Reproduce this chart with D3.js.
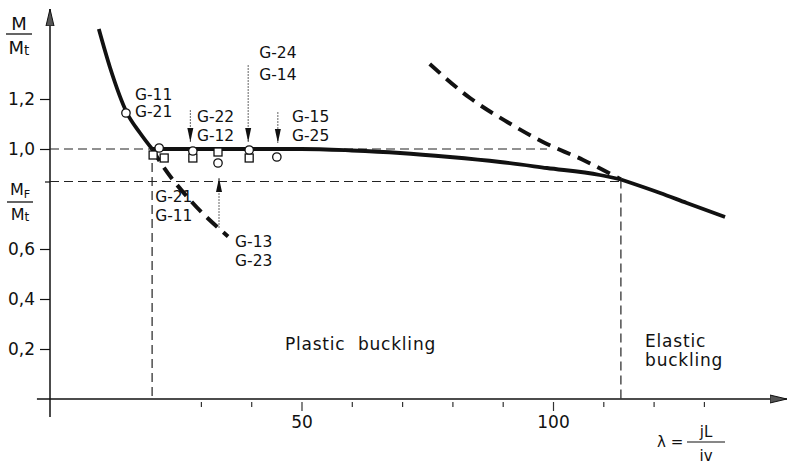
<!DOCTYPE html>
<html>
<head>
<meta charset="utf-8">
<script src="https://cdn.jsdelivr.net/npm/d3@7"></script>
<style>
  body { margin: 0; background: #fff; }
  text { font-family: "DejaVu Sans", sans-serif; fill: #111; }
</style>
</head>
<body>
<svg id="chart" width="793" height="466"></svg>
<script>
// curves: [lambda, M/Mt]
const steepSolid = [[9.7, 1.48], [11.9, 1.328], [15.3, 1.144], [17.9, 1.064], [20.3, 1.0]];
const steepDashed = [[20.3, 1.0], [22.3, 0.936], [28.2, 0.788], [35.4, 0.65]];
const plateau = [[20.3, 1.0], [35, 1.0], [50, 1.0], [60, 0.994], [69.6, 0.984], [79.5, 0.968],
                 [89.5, 0.948], [98.8, 0.924], [109.3, 0.896], [113.5, 0.878]];
const elasticDashed = [[75.5, 1.34], [83.5, 1.204], [90.9, 1.108], [98, 1.028], [106, 0.956], [113.5, 0.878]];
const elasticSolid = [[113.5, 0.878], [121.3, 0.824], [126.6, 0.784], [134.2, 0.728]];

// test points
const circles = [[15.1, 1.144], [21.7, 1.004], [28.4, 0.992], [33.4, 0.944], [39.6, 0.996], [45.1, 0.968]];
const squares = [[20.5, 0.976], [22.7, 0.964], [28.4, 0.964], [33.4, 0.988], [39.6, 0.964]];

const MF = 0.87;          // M_F / M_t
const lambdaP = 20.3;     // end of the plateau at the left
const lambdaE = 113.5;    // plastic / elastic limit
const lambdaOne = 98.8;   // where the elastic curve crosses 1,0

const xTicks = [30, 40, 50, 60, 70, 80, 90, 100, 110, 120, 130];
const xLabels = { 50: "50", 100: "100" };
const yTicks = [0.2, 0.4, 0.6, 1.0, 1.2];
const yLabels = ["0,2", "0,4", "0,6", "1,0", "1,2"];

// annotations: label lines, text anchor point, line gap, arrow [x, from y, to y]
const notes = [
  { lines: ["G-11", "G-21"], at: [16.9, 1.196], gap: 17 },
  { lines: ["G-22", "G-12"], at: [29.2, 1.108], gap: 18.5, arrow: [27.9, 1.156, 1.028] },
  { lines: ["G-24", "G-14"], at: [41.6, 1.364], gap: 22, arrow: [39.4, 1.336, 1.028] },
  { lines: ["G-15", "G-25"], at: [48.1, 1.108], gap: 18.5, arrow: [45.3, 1.148, 1.024] },
  { lines: ["G-21", "G-11"], at: [20.9, 0.788], gap: 18.5 },
  { lines: ["G-13", "G-23"], at: [36.8, 0.608], gap: 18.5, arrow: [33.6, 0.684, 0.884] }
];

const svg = d3.select("#chart");
const x = d3.scaleLinear().domain([0, 100]).range([50, 553]);
const y = d3.scaleLinear().domain([0, 1]).range([399, 149]);
const line = d3.line().x(d => x(d[0])).y(d => y(d[1])).curve(d3.curveMonotoneX);

const defs = svg.append("defs");
defs.append("marker")
    .attr("id", "tip")
    .attr("viewBox", "0 -4 14 8")
    .attr("refX", 14).attr("refY", 0)
    .attr("markerWidth", 14).attr("markerHeight", 8)
    .attr("markerUnits", "userSpaceOnUse")
    .attr("orient", "auto")
    .append("path").attr("d", "M0,-3L14,0L0,3Z").attr("fill", "#111");
defs.append("marker")
    .attr("id", "axisTip")
    .attr("viewBox", "0 -6 18 12")
    .attr("refX", 17).attr("refY", 0)
    .attr("markerWidth", 18).attr("markerHeight", 12)
    .attr("markerUnits", "userSpaceOnUse")
    .attr("orient", "auto")
    .append("path").attr("d", "M0,-4L17,0L0,4Z")
    .attr("fill", "#555").attr("stroke", "#111").attr("stroke-width", 1);

// axes
svg.append("line")
    .attr("x1", x(-2.6)).attr("x2", x(146.5))
    .attr("y1", y(0)).attr("y2", y(0))
    .attr("stroke", "#111").attr("stroke-width", 1.5)
    .attr("marker-end", "url(#axisTip)");
svg.append("line")
    .attr("x1", x(0)).attr("x2", x(0))
    .attr("y1", y(-0.072)).attr("y2", y(1.56))
    .attr("stroke", "#111").attr("stroke-width", 1.5)
    .attr("marker-end", "url(#axisTip)");

const gx = svg.append("g")
    .attr("transform", `translate(0,${y(0)})`)
    .call(d3.axisBottom(x).tickValues(xTicks).tickSizeOuter(0).tickFormat(d => xLabels[d] || ""));
gx.select(".domain").remove();
gx.selectAll(".tick line")
    .attr("y1", 3).attr("y2", d => xLabels[d] ? 12 : 8)
    .attr("stroke", "#333").attr("stroke-width", 1.2);
gx.selectAll(".tick text")
    .attr("y", 17).attr("font-size", 17).attr("font-family", "DejaVu Sans").attr("fill", "#111");

const gy = svg.append("g")
    .attr("transform", `translate(${x(0)},0)`)
    .call(d3.axisLeft(y).tickValues(yTicks.concat([MF])).tickSize(10).tickPadding(5)
        .tickFormat(d => { const i = yTicks.indexOf(d); return i < 0 ? "" : yLabels[i]; }));
gy.select(".domain").remove();
gy.selectAll(".tick line")
    .attr("x2", d => d === MF ? -5 : -10)
    .attr("stroke", "#111").attr("stroke-width", 1.2);
gy.selectAll(".tick text")
    .attr("font-size", 17).attr("font-family", "DejaVu Sans").attr("fill", "#111");

// guide lines
const guides = [
  [[0, 1.0], [lambdaOne, 1.0]],
  [[0, MF], [lambdaE, MF]],
  [[lambdaP, 1.0], [lambdaP, 0]],
  [[lambdaE, 0.878], [lambdaE, 0]]
];
svg.selectAll(".guide")
    .data(guides)
    .enter()
    .append("path")
    .attr("class", "guide")
    .attr("d", d3.line().x(d => x(d[0])).y(d => y(d[1])))
    .attr("fill", "none")
    .attr("stroke", "#222").attr("stroke-width", 1.2)
    .attr("stroke-dasharray", "9,5");

// curves
[steepSolid, plateau, elasticSolid].forEach(c => {
    svg.append("path").attr("d", line(c))
        .attr("fill", "none").attr("stroke", "#111").attr("stroke-width", 3.8);
});
[steepDashed, elasticDashed].forEach(c => {
    svg.append("path").attr("d", line(c))
        .attr("fill", "none").attr("stroke", "#111").attr("stroke-width", 4)
        .attr("stroke-dasharray", "14,8");
});

// test points
svg.selectAll(".sq")
    .data(squares)
    .enter()
    .append("rect")
    .attr("class", "sq")
    .attr("x", d => x(d[0]) - 4).attr("y", d => y(d[1]) - 4)
    .attr("width", 8).attr("height", 8)
    .attr("fill", "#fff").attr("stroke", "#111").attr("stroke-width", 1.3);
svg.selectAll(".ci")
    .data(circles)
    .enter()
    .append("circle")
    .attr("class", "ci")
    .attr("cx", d => x(d[0])).attr("cy", d => y(d[1]))
    .attr("r", 4.2)
    .attr("fill", "#fff").attr("stroke", "#111").attr("stroke-width", 1.3);

// annotations
notes.forEach(n => {
    n.lines.forEach((t, i) => {
        svg.append("text")
            .attr("x", x(n.at[0])).attr("y", y(n.at[1]) + i * n.gap)
            .attr("font-size", 15.5)
            .text(t);
    });
    if (n.arrow) {
        svg.append("line")
            .attr("x1", x(n.arrow[0])).attr("x2", x(n.arrow[0]))
            .attr("y1", y(n.arrow[1])).attr("y2", y(n.arrow[2]))
            .attr("stroke", "#555").attr("stroke-width", 0.9)
            .attr("stroke-dasharray", "2,1")
            .attr("marker-end", "url(#tip)");
    }
});

svg.append("text")
    .attr("x", x(46.7)).attr("y", y(0.196))
    .attr("font-size", 17).attr("letter-spacing", 0.8).style("white-space", "pre")
    .text("Plastic  buckling");
svg.append("text").attr("x", x(118.3)).attr("y", y(0.208)).attr("font-size", 17).attr("letter-spacing", 0.8).text("Elastic");
svg.append("text").attr("x", x(118.3)).attr("y", y(0.132)).attr("font-size", 17).attr("letter-spacing", 0.8).text("buckling");

// y-axis quantity labels
function fraction(cx, top, sub, bar, fs) {
    const t = svg.append("text").attr("x", cx).attr("y", top).attr("text-anchor", "middle").attr("font-size", fs);
    t.append("tspan").text("M");
    if (sub) t.append("tspan").attr("font-size", fs * 0.7).attr("dy", 3).text(sub);
    svg.append("line").attr("x1", cx - 13).attr("x2", cx + 13).attr("y1", bar).attr("y2", bar)
        .attr("stroke", "#111").attr("stroke-width", 1.3);
    const b = svg.append("text").attr("x", cx).attr("y", bar + fs + 2).attr("text-anchor", "middle").attr("font-size", fs);
    b.append("tspan").text("M");
    b.append("tspan").attr("font-size", fs * 0.75).attr("dy", 1).text("t");
}
fraction(19, 30, null, 34, 18);
fraction(20, 195, "F", 202, 16);

// x-axis quantity label
svg.append("text").attr("x", 657).attr("y", 447).attr("font-size", 15).text("λ =");
svg.append("line").attr("x1", 687).attr("x2", 725).attr("y1", 442).attr("y2", 442)
    .attr("stroke", "#111").attr("stroke-width", 1.2);
svg.append("text").attr("x", 706).attr("y", 437).attr("text-anchor", "middle").attr("font-size", 15).text("jL");
svg.append("text").attr("x", 706).attr("y", 461).attr("text-anchor", "middle").attr("font-size", 15).text("iv");
</script>
</body>
</html>
